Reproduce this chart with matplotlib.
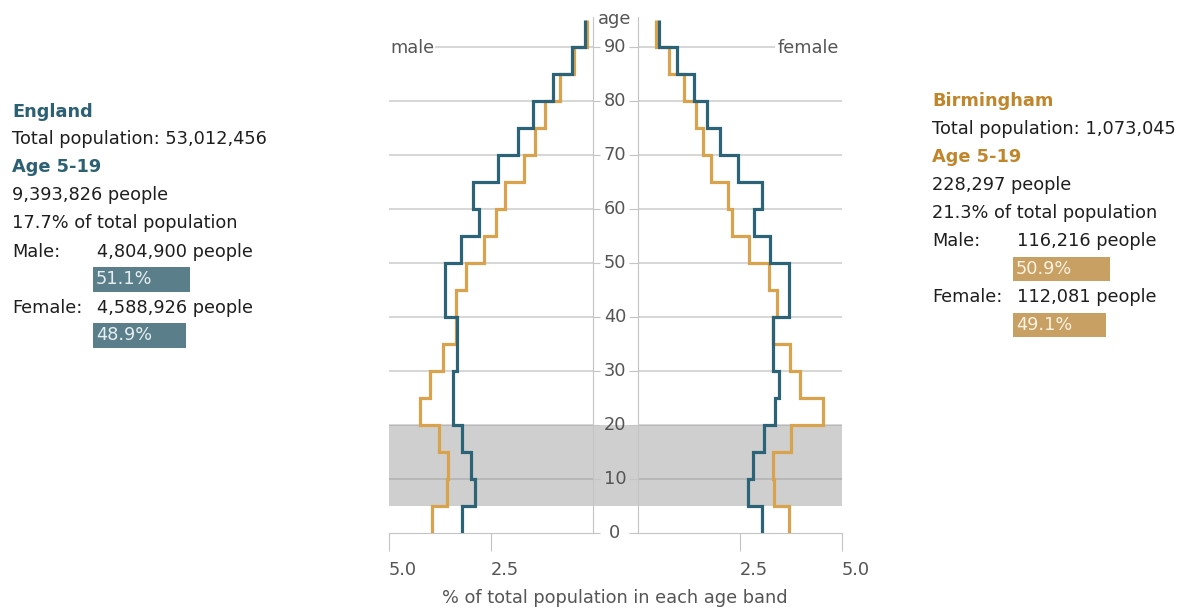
import matplotlib
matplotlib.use("Agg")
import matplotlib.pyplot as plt
import matplotlib.transforms as mtransforms

plt.rcParams["font.family"] = ["DejaVu Sans"]

# --- Data ---
age_edges = [0, 5, 10, 15, 20, 25, 30, 35, 40, 45, 50, 55, 60, 65, 70, 75, 80, 85, 90, 95]
age_ticks = [0, 10, 20, 30, 40, 50, 60, 70, 80, 90]

# % of total population per 5-year band, 0-4 ... 90+
male_england = [3.22, 2.88, 3.00, 3.22, 3.44, 3.44, 3.33, 3.34, 3.63, 3.63,
                3.24, 2.80, 2.95, 2.34, 1.84, 1.46, 0.99, 0.52, 0.20]
male_birmingham = [3.95, 3.59, 3.55, 3.77, 4.24, 4.00, 3.68, 3.35, 3.36, 3.12,
                   2.67, 2.38, 2.15, 1.69, 1.41, 1.18, 0.81, 0.46, 0.14]
female_england = [3.05, 2.70, 2.81, 3.09, 3.37, 3.46, 3.32, 3.32, 3.70, 3.70,
                  3.24, 2.85, 3.05, 2.44, 2.01, 1.68, 1.37, 0.95, 0.52]
female_birmingham = [3.70, 3.34, 3.32, 3.74, 4.53, 3.97, 3.73, 3.32, 3.41, 3.22,
                     2.72, 2.30, 2.20, 1.79, 1.60, 1.41, 1.13, 0.77, 0.44]

highlight_band = (5, 20)

england_text = ["Total population: 53,012,456", "9,393,826 people", "17.7% of total population"]
england_people = ["4,804,900 people", "4,588,926 people"]
england_split = [51.1, 48.9]

birmingham_text = ["Total population: 1,073,045", "228,297 people", "21.3% of total population"]
birmingham_people = ["116,216 people", "112,081 people"]
birmingham_split = [50.9, 49.1]

# --- Style ---
TEAL_LINE = "#2d6377"
GOLD_LINE = "#d9a24c"
TEAL_HEAD = "#2c6073"
GOLD_HEAD = "#c0862c"
TEAL_BAR = "#5a7f8b"
GOLD_BAR = "#c9a064"
AXIS_GRAY = "#c4c4c4"
LABEL_GRAY = "#555555"
TEXT = "#1e1e1e"
FS = 12.8

W, H = 1177, 608
PX_PER_YEAR = 5.4
AGE_TOP = 95.5
Y0 = 533  # pixel row of age 0


def fx(x):
    return x / W


def fy(y):
    return 1 - y / H


fig = plt.figure(figsize=(W / 100, H / 100), dpi=100)

ax_h = AGE_TOP * PX_PER_YEAR / H
ax_bg = fig.add_axes([fx(389), fy(Y0), (842 - 389) / W, ax_h])
ax_l = fig.add_axes([fx(389), fy(Y0), 204 / W, ax_h], facecolor="none")
ax_r = fig.add_axes([fx(638), fy(Y0), 204 / W, ax_h], facecolor="none")

ax_bg.set_ylim(0, AGE_TOP)
ax_bg.axhspan(*highlight_band, color="#cfcfcf", lw=0)
ax_bg.axis("off")

for ax in (ax_l, ax_r):
    ax.set_ylim(0, AGE_TOP)
    for s in ax.spines.values():
        s.set_visible(False)
    ax.spines["bottom"].set_visible(True)
    ax.spines["bottom"].set_color(AXIS_GRAY)
    ax.set_yticks(age_ticks)
    ax.set_yticklabels([])

ax_l.set_xlim(5.0, 0)
ax_r.set_xlim(0, 5.0)
ax_l.spines["right"].set_visible(True)
ax_l.spines["right"].set_color(AXIS_GRAY)
ax_r.spines["left"].set_visible(True)
ax_r.spines["left"].set_color(AXIS_GRAY)
ax_l.yaxis.tick_right()
ax_r.yaxis.tick_left()
ax_l.tick_params(axis="y", length=5, color=AXIS_GRAY, labelright=False)
ax_r.tick_params(axis="y", length=6.5, color=AXIS_GRAY, labelleft=False)

# gridlines (semi-transparent so they darken inside the grey band)
grid_kw = dict(color="#8f8f8f", alpha=0.42, lw=1.2, zorder=1)
for a in age_ticks[1:-1]:
    ax_l.axhline(a, **grid_kw)
    ax_r.axhline(a, **grid_kw)
ax_l.hlines(age_ticks[-1], 0, (593 - 435) / 40.8, **grid_kw)
ax_r.hlines(age_ticks[-1], 0, (775 - 638) / 40.8, **grid_kw)

# x ticks
ax_l.set_xticks([5.0, 2.5])
ax_l.set_xticklabels(["5.0", "2.5"])
ax_r.set_xticks([2.5, 5.0])
ax_r.set_xticklabels(["2.5", "5.0"])
for ax in (ax_l, ax_r):
    ax.tick_params(axis="x", length=13, color=AXIS_GRAY, labelcolor=LABEL_GRAY,
                   labelsize=FS, pad=7)
    for lab in ax.get_xticklabels():
        lab.set_horizontalalignment("left")

# step profiles
ax_l.stairs(male_birmingham, age_edges, orientation="horizontal", baseline=None,
            color=GOLD_LINE, lw=2.3, zorder=3)
ax_l.stairs(male_england, age_edges, orientation="horizontal", baseline=None,
            color=TEAL_LINE, lw=2.3, zorder=4)
ax_r.stairs(female_birmingham, age_edges, orientation="horizontal", baseline=None,
            color=GOLD_LINE, lw=2.3, zorder=3)
ax_r.stairs(female_england, age_edges, orientation="horizontal", baseline=None,
            color=TEAL_LINE, lw=2.3, zorder=4)

# age labels in the middle
mid = mtransforms.blended_transform_factory(fig.transFigure, ax_l.transData)
for a in age_ticks:
    fig.text(fx(615), a, str(a), transform=mid, ha="center", va="center",
             fontsize=FS, color=LABEL_GRAY)
fig.text(fx(615), 95.1, "age", transform=mid, ha="center", va="center",
         fontsize=FS, color=LABEL_GRAY)

fig.text(fx(390), fy(48), "male", ha="left", va="center", fontsize=FS, color=LABEL_GRAY)
fig.text(fx(778), fy(48), "female", ha="left", va="center", fontsize=FS, color=LABEL_GRAY)
fig.text(fx(615), fy(598), "% of total population in each age band", ha="center",
         va="center", fontsize=FS, color=LABEL_GRAY)


# --- Side panels ---
def side_panel(x0, y0, name, color, lines, people, split, bar_color, bar_text_color):
    fig.text(fx(x0), fy(y0), name, color=color, fontsize=FS, fontweight="bold", va="baseline")
    fig.text(fx(x0), fy(y0 + 27.5), lines[0], color=TEXT, fontsize=FS, va="baseline")
    fig.text(fx(x0), fy(y0 + 55), "Age 5-19", color=color, fontsize=FS, fontweight="bold",
             va="baseline")
    fig.text(fx(x0), fy(y0 + 83), lines[1], color=TEXT, fontsize=FS, va="baseline")
    fig.text(fx(x0), fy(y0 + 111), lines[2], color=TEXT, fontsize=FS, va="baseline")
    for i, (lab, ppl) in enumerate(zip(["Male:", "Female:"], people)):
        yb = y0 + 140 + 56 * i
        fig.text(fx(x0), fy(yb), lab, color=TEXT, fontsize=FS, va="baseline")
        fig.text(fx(x0 + 85), fy(yb), ppl, color=TEXT, fontsize=FS, va="baseline")
    # bars: 100% = 190 px
    top = y0 + 134.5
    axb = fig.add_axes([fx(x0 + 81), fy(top + 112), 190 / W, 112 / H], facecolor="none")
    axb.barh(range(len(split)), split, height=0.446, color=bar_color, left=0)
    axb.set_xlim(0, 100)
    axb.set_ylim(len(split) - 0.5, -0.5)
    axb.axis("off")
    for i, v in enumerate(split):
        axb.text(1.5, i, f"{v}%", va="center", ha="left", fontsize=FS, color=bar_text_color)


side_panel(12, 117, "England", TEAL_HEAD, england_text, england_people, england_split,
           TEAL_BAR, "#e6eef0")
side_panel(932, 106.5, "Birmingham", GOLD_HEAD, birmingham_text, birmingham_people,
           birmingham_split, GOLD_BAR, "#fbf2e2")

fig.savefig("out.png", dpi=100)
